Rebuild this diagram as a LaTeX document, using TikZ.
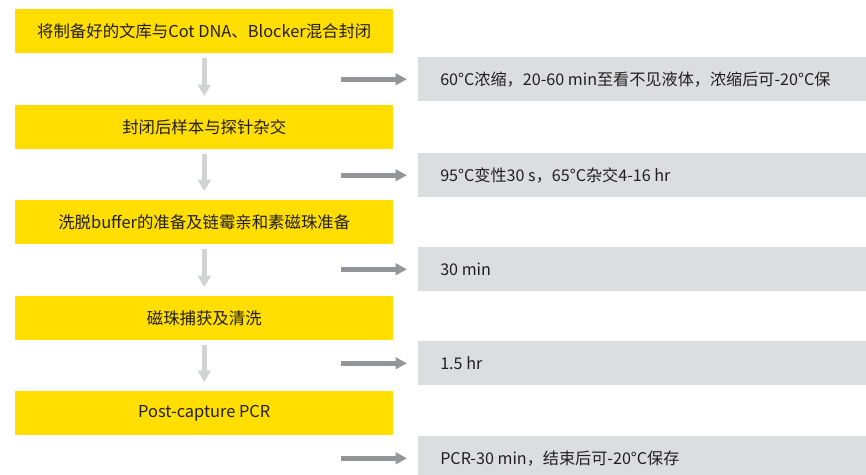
\documentclass[tikz,border=0pt]{standalone}
\usepackage{fontspec}
\setmainfont{Noto Sans CJK SC}
\usetikzlibrary{arrows.meta}
\definecolor{yel}{HTML}{FFDE00}
\definecolor{greybox}{HTML}{DCDDDF}
\definecolor{darkarrow}{HTML}{939598}
\definecolor{lightarrow}{HTML}{D1D3D4}
\definecolor{txt}{HTML}{231F20}
\tikzset{
  stepbox/.style={fill=yel, draw=none, minimum width=378*0.75pt, minimum height=44*0.75pt, inner sep=0pt, anchor=north west},
  steptext/.style={text=txt, inner sep=0pt, font=\fontsize{12.3pt}{14pt}\selectfont},
  notebox/.style={fill=greybox, draw=none, minimum width=448*0.75pt, minimum height=44*0.75pt, inner sep=0pt, anchor=north west},
  notetext/.style={anchor=west, inner sep=0pt, text=txt, font=\fontsize{12.1pt}{14pt}\selectfont},
  downarrow/.style={draw=lightarrow, line width=3.75pt, -{Triangle[length=8.5pt, width=9.5pt]}, shorten <=3pt},
  rightarrow/.style={draw=darkarrow, line width=3.75pt, -{Triangle[length=8.5pt, width=8.5pt]}},
}
\begin{document}
\begin{tikzpicture}[x=0.75pt, y=-0.75pt]
\useasboundingbox (0,0) rectangle (866,474);
% yellow step boxes
\node[stepbox] (s1) at (15,9) {};
\node[stepbox] (s2) at (15,105) {};
\node[stepbox] (s3) at (15,200) {};
\node[stepbox] (s4) at (15,296) {};
\node[stepbox] (s5) at (15,391) {};
\node[steptext] (t1) at (s1.center) {将制备好的文库与Cot DNA、Blocker混合封闭};
\node[steptext] (t2) at (s2.center) {封闭后样本与探针杂交};
\node[steptext] (t3) at (s3.center) {洗脱buffer的准备及链霉亲和素磁珠准备};
\node[steptext] (t4) at (s4.center) {磁珠捕获及清洗};
\node[steptext] (t5) at (s5.center) {Post-capture PCR};
% grey note boxes
\node[notebox] (n1) at (418,57) {};
\node[notebox] (n2) at (418,153) {};
\node[notebox] (n3) at (418,247) {};
\node[notebox] (n4) at (418,341) {};
\node[notebox] (n5) at (418,436) {};
\node[notetext] (m1) at ([xshift=22*0.75pt]n1.west) {60°C浓缩，20-60 min至看不见液体，浓缩后可-20°C保};
\node[notetext] (m2) at ([xshift=22*0.75pt]n2.west) {95°C变性30 s，65°C杂交4-16 hr};
\node[notetext] (m3) at ([xshift=22*0.75pt]n3.west) {30 min};
\node[notetext] (m4) at ([xshift=22*0.75pt]n4.west) {1.5 hr};
\node[notetext] (m5) at ([xshift=22*0.75pt]n5.west) {PCR-30 min，结束后可-20°C保存};
% down arrows
\draw[downarrow] (s1.south) -- ([yshift=9*0.75pt]s2.north);
\draw[downarrow] (s2.south) -- ([yshift=9*0.75pt]s3.north);
\draw[downarrow] (s3.south) -- ([yshift=9*0.75pt]s4.north);
\draw[downarrow] (s4.south) -- ([yshift=9*0.75pt]s5.north);
% right arrows
\foreach \i in {1,...,5}{
  \coordinate (r\i) at ([xshift=-77*0.75pt]n\i.west);
  \draw[rightarrow] (r\i) -- ([xshift=-11*0.75pt]n\i.west);
}
\end{tikzpicture}
\end{document}
